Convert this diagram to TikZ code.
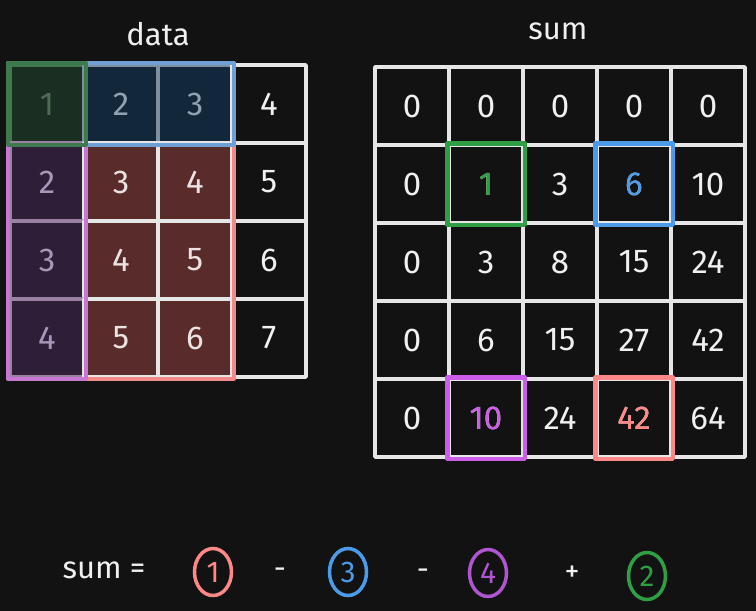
\documentclass[tikz,border=0pt]{standalone}
\usepackage{fontspec}
\setmainfont{Fira Sans}
\usetikzlibrary{shapes.geometric}
\definecolor{bg}{HTML}{121212}
\definecolor{gridc}{HTML}{E6E6E6}
\definecolor{txt}{HTML}{F0F0F0}
\definecolor{gfill}{HTML}{1B2E22}\definecolor{gline}{HTML}{3F7A4E}\definecolor{gtext}{HTML}{4E6B56}
\definecolor{bfill}{HTML}{13273A}\definecolor{bline}{HTML}{6F9FD4}\definecolor{bint}{HTML}{7E909F}\definecolor{btext}{HTML}{8FA2B4}
\definecolor{pfill}{HTML}{2F1E38}\definecolor{pline}{HTML}{C677D0}\definecolor{pint}{HTML}{9A80A2}\definecolor{ptext}{HTML}{A898B8}
\definecolor{rfill}{HTML}{5A2B2B}\definecolor{rline}{HTML}{F38A8A}\definecolor{rtext}{HTML}{ECE2E2}
\definecolor{sgreen}{HTML}{2F9E44}
\definecolor{sblue}{HTML}{4C9BE8}
\definecolor{spurple}{HTML}{CC5DE8}
\definecolor{sred}{HTML}{FF8787}
\definecolor{cpurple}{HTML}{AE55D0}
\begin{document}
\begin{tikzpicture}[x=1pt,y=-1pt,
  cell/.style={draw=gridc, fill=bg, text=txt, line width=3.5pt, line join=round,
    minimum width=74pt, minimum height=78pt, inner sep=0pt,
    font=\fontsize{33}{38}\selectfont},
  gcell/.style={cell, fill=gfill, draw=gline, text=gtext},
  bcell/.style={cell, fill=bfill, draw=bint, text=btext},
  pcell/.style={cell, fill=pfill, draw=pint, text=ptext},
  rcell/.style={cell, fill=rfill, text=rtext},
  region/.style={line width=4pt, line join=round},
  hilite/.style={line width=4.5pt, line join=round},
  lbl/.style={text=txt, font=\fontsize{31}{36}\selectfont, inner sep=1pt},
  op/.style={text=txt, font=\fontsize{30}{36}\selectfont, inner sep=1pt},
  circ/.style={ellipse, draw, line width=3.5pt, minimum width=37pt, minimum height=47pt,
    inner sep=0pt, font=\fontsize{30}{34}\selectfont},
  hnum/.style={font=\fontsize{33}{38}\selectfont}
]
\fill[bg] (0,0) rectangle (756,611);
\useasboundingbox (0,0) rectangle (756,611);

% titles
\node[lbl] (tdata) at (158,34) {data};
\node[lbl] (tsum) at (558,31) {sum};

% data grid
\node[gcell] (d-0-0) at (47,104) {1};
\node[bcell] (d-0-1) at (121,104) {2};
\node[bcell] (d-0-2) at (195,104) {3};
\node[cell]  (d-0-3) at (269,104) {4};
\foreach \r in {1,2,3}{
  \pgfmathtruncatemacro\va{\r+1}
  \pgfmathtruncatemacro\vb{\r+2}
  \pgfmathtruncatemacro\vc{\r+3}
  \pgfmathtruncatemacro\vd{\r+4}
  \pgfmathsetmacro\yy{104+78*\r}
  \node[pcell] (d-\r-0) at (47,\yy) {\va};
  \node[rcell] (d-\r-1) at (121,\yy) {\vb};
  \node[rcell] (d-\r-2) at (195,\yy) {\vc};
  \node[cell]  (d-\r-3) at (269,\yy) {\vd};
}
% region outlines
\draw[region, draw=rline] (d-0-0.north west) rectangle (d-3-2.south east);
\draw[region, draw=bline] (d-0-0.north west) rectangle (d-0-2.south east);
\draw[region, draw=pline] (d-0-0.north west) rectangle (d-3-0.south east);
\draw[region, draw=gline] (d-0-0.north west) rectangle (d-0-0.south east);

% sum grid
\foreach \r/\vals in {0/{0,0,0,0,0},1/{0,1,3,6,10},2/{0,3,8,15,24},3/{0,6,15,27,42},4/{0,10,24,42,64}}{
  \foreach \v [count=\c from 0] in \vals {
    \pgfmathsetmacro\xx{412+74*\c}
    \pgfmathsetmacro\yy{106+78*\r}
    \node[cell] (s-\r-\c) at (\xx,\yy) {\v};
  }
}
\draw[hilite, draw=sgreen] (s-1-1.north west) rectangle (s-1-1.south east);
\draw[hilite, draw=sblue] (s-1-3.north west) rectangle (s-1-3.south east);
\draw[hilite, draw=spurple] (s-4-1.north west) rectangle (s-4-1.south east);
\draw[hilite, draw=sred] (s-4-3.north west) rectangle (s-4-3.south east);
\node[hnum, text=sgreen] at (s-1-1) {1};
\node[hnum, text=sblue] at (s-1-3) {6};
\node[hnum, text=spurple] at (s-4-1) {10};
\node[hnum, text=sred] at (s-4-3) {42};

% formula
\node[lbl] (fsum) at (104,570) {sum =};
\node[circ, draw=sred, text=sred] (c1) at (213,572) {1};
\node[op] (m1) at (280,573) {-};
\node[circ, draw=sblue, text=sblue] (c3) at (348,572) {3};
\node[op] (m2) at (423,574) {-};
\node[circ, draw=cpurple, text=cpurple] (c4) at (488,573) {4};
\node[op] (p1) at (572,574) {+};
\node[circ, draw=sgreen, text=sgreen] (c2) at (647,576) {2};
\end{tikzpicture}
\end{document}
